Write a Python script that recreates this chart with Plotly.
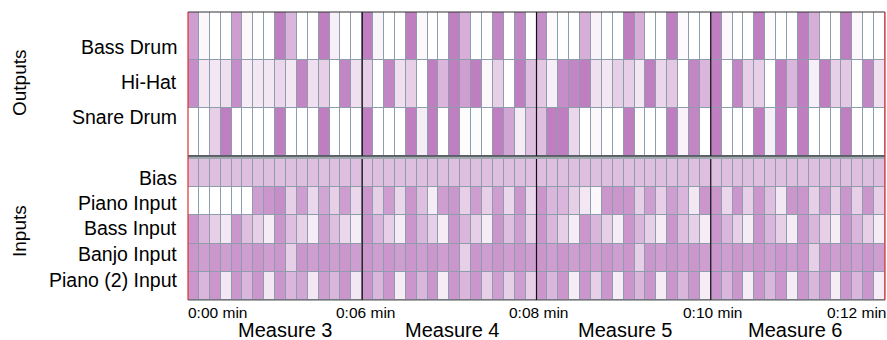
import plotly.graph_objects as go

# ---------------- data ----------------
output_labels = ["Bass Drum", "Hi-Hat", "Snare Drum"]
input_labels = ["Bias", "Piano Input", "Bass Input", "Banjo Input", "Piano (2) Input"]
measure_labels = ["Measure 3", "Measure 4", "Measure 5", "Measure 6"]
time_labels = ["0:00 min", "0:06 min", "0:08 min", "0:10 min", "0:12 min"]

bass_drum = (
    [0.6, 0.05, 0, 0, 0.6, 0.05, 0, 0, 0.8, 0.45, 0, 0, 0.8, 0.1, 0, 0]
    + [0.8, 0.07, 0, 0, 0.8, 0.05, 0, 0, 0.8, 0.5, 0, 0, 0.75, 0, 0.75, 0]
    + [0.7, 0.03, 0, 0, 0.5, 0.08, 0, 0, 0.8, 0.5, 0, 0, 0.8, 0.03, 0, 0]
    + [0.8, 0.05, 0, 0, 0.8, 0.03, 0, 0, 0.8, 0.5, 0, 0, 0.8, 0.05, 0, 0]
)
hi_hat = (
    [0.7, 0.15, 0.15, 0.2, 0.7, 0.12, 0.15, 0.15, 0.25, 0.15, 0.75, 0.2, 0.3, 0, 0.75, 0.2]
    + [0.3, 0, 0.75, 0.2, 0.3, 0, 0.8, 0.45, 0.8, 0.6, 0.8, 0.05, 0.3, 0, 0.8, 0.4]
    + [0.35, 0.1, 0.7, 0.75, 0.8, 0.2, 0.15, 0.3, 0.3, 0.15, 0.8, 0.25, 0.35, 0, 0.75, 0.45]
    + [0.8, 0, 0.75, 0.3, 0.3, 0, 0.8, 0.45, 0.8, 0.1, 0.8, 0.3, 0.35, 0, 0.75, 0.2]
)
snare_drum = (
    [0, 0, 0.3, 0.8, 0, 0, 0, 0, 0.8, 0, 0, 0, 0.8, 0, 0, 0]
    + [0.8, 0, 0, 0, 0.8, 0.12, 0.8, 0, 0.8, 0.02, 0.02, 0, 0.8, 0.55, 0.12, 0.4]
    + [0.4, 0.8, 0.8, 0.25, 0, 0.05, 0, 0, 0.8, 0.02, 0, 0, 0.8, 0.08, 0.75, 0]
    + [0.8, 0, 0, 0, 0.8, 0.1, 0.8, 0, 0.8, 0, 0, 0, 0.8, 0, 0, 0]
)

bias = (
    [0.4, 0.4, 0.4, 0.4, 0.4, 0.4, 0.4, 0.4, 0.4, 0.4, 0.4, 0.4, 0.4, 0.4, 0.4, 0.4]
    + [0.4, 0.4, 0.4, 0.4, 0.4, 0.4, 0.4, 0.4, 0.4, 0.4, 0.4, 0.4, 0.4, 0.4, 0.4, 0.4]
    + [0.4, 0.4, 0.4, 0.4, 0.4, 0.4, 0.4, 0.4, 0.4, 0.4, 0.4, 0.4, 0.4, 0.4, 0.4, 0.4]
    + [0.4, 0.4, 0.4, 0.4, 0.4, 0.4, 0.4, 0.4, 0.4, 0.4, 0.4, 0.4, 0.4, 0.4, 0.4, 0.4]
)
piano_input = (
    [0, 0, 0, 0, 0, 0, 0.6, 0.65, 0.7, 0.3, 0.6, 0.25, 0.55, 0.3, 0.6, 0.25]
    + [0.65, 0.3, 0.6, 0.25, 0.65, 0.4, 0.12, 0.6, 0.65, 0.3, 0.6, 0.3, 0.6, 0.25, 0.65, 0.25]
    + [0.65, 0.45, 0.45, 0.3, 0.15, 0.05, 0.65, 0.65, 0.65, 0.3, 0.6, 0.3, 0.6, 0.45, 0.15, 0.65]
    + [0.65, 0.25, 0.65, 0.3, 0.65, 0.4, 0.15, 0.65, 0.65, 0.3, 0.6, 0.3, 0.65, 0.3, 0.65, 0.3]
)
bass_input = (
    [0.65, 0.45, 0.3, 0.15, 0.65, 0.4, 0.3, 0.12, 0.65, 0.4, 0.3, 0.12, 0.6, 0.4, 0.25, 0.12]
    + [0.65, 0.45, 0.3, 0.12, 0.65, 0.45, 0.3, 0.12, 0.65, 0.45, 0.3, 0.12, 0.65, 0.4, 0.6, 0.3]
    + [0.65, 0.45, 0.3, 0.12, 0.65, 0.45, 0.3, 0.12, 0.65, 0.45, 0.3, 0.12, 0.65, 0.4, 0.3, 0.12]
    + [0.65, 0.45, 0.3, 0.12, 0.65, 0.45, 0.3, 0.12, 0.65, 0.45, 0.3, 0.12, 0.65, 0.45, 0.3, 0.12]
)
banjo_input = (
    [0.65, 0.6, 0.65, 0.6, 0.65, 0.6, 0.65, 0.6, 0.65, 0.3, 0.65, 0.6, 0.65, 0.6, 0.65, 0.6]
    + [0.65, 0.6, 0.65, 0.6, 0.65, 0.6, 0.65, 0.6, 0.65, 0.3, 0.65, 0.6, 0.65, 0.6, 0.65, 0.6]
    + [0.65, 0.6, 0.65, 0.6, 0.65, 0.6, 0.65, 0.6, 0.65, 0.3, 0.65, 0.6, 0.65, 0.6, 0.65, 0.6]
    + [0.65, 0.6, 0.65, 0.6, 0.65, 0.6, 0.65, 0.6, 0.65, 0.3, 0.65, 0.6, 0.65, 0.6, 0.65, 0.6]
)
piano2_input = (
    [0.65, 0.45, 0.65, 0.15, 0.65, 0.45, 0.65, 0.15, 0.65, 0.45, 0.55, 0.15, 0.6, 0.45, 0.65, 0.15]
    + [0.65, 0.45, 0.65, 0.12, 0.65, 0.45, 0.65, 0.12, 0.65, 0.45, 0.65, 0.3, 0.6, 0.3, 0.6, 0.3]
    + [0.65, 0.45, 0.65, 0.12, 0.65, 0.3, 0.65, 0.12, 0.65, 0.45, 0.65, 0.12, 0.65, 0.45, 0.65, 0.12]
    + [0.65, 0.45, 0.65, 0.12, 0.65, 0.45, 0.65, 0.12, 0.65, 0.45, 0.65, 0.12, 0.65, 0.45, 0.65, 0.12]
)

# ---------------- figure ----------------
W, H = 887, 340
ML, MR, MT, MB = 188, 2, 12, 40
PW, PH = W - ML - MR, H - MT - MB
FONT = "Liberation Sans, Arial, sans-serif"
GRID = "#8e9cab"
scale = [[0, "#ffffff"], [1, "#be7ec0"]]

n_cols = len(bass_drum)
xs = list(range(n_cols))


def py(pix):  # pixel y -> paper
    return (H - MB - pix) / PH


def px(pix):  # pixel x -> paper
    return (pix - ML) / PW


fig = go.Figure()
fig.add_trace(go.Heatmap(
    z=[bass_drum, hi_hat, snare_drum], x=xs, y=[0, 1, 2],
    colorscale=scale, zmin=0, zmax=0.8, showscale=False,
    xgap=1, ygap=1, xaxis="x", yaxis="y", hoverinfo="skip"))
fig.add_trace(go.Heatmap(
    z=[bias, piano_input, bass_input, banjo_input, piano2_input], x=xs, y=[0, 1, 2, 3, 4],
    colorscale=scale, zmin=0, zmax=0.8, showscale=False,
    xgap=1, ygap=1, xaxis="x2", yaxis="y2", hoverinfo="skip"))

out_top, out_bot = py(12), py(156)
in_top, in_bot = py(159), py(300)

ax = dict(showticklabels=False, showgrid=False, zeroline=False, ticks="")
fig.update_layout(
    width=W, height=H,
    margin=dict(l=ML, r=MR, t=MT, b=MB, pad=0),
    paper_bgcolor="white", plot_bgcolor=GRID,
    xaxis=dict(ax, range=[-0.5, n_cols - 0.5], domain=[0, 1], anchor="y"),
    yaxis=dict(ax, range=[2.5, -0.5], domain=[out_bot, out_top], anchor="x"),
    xaxis2=dict(ax, range=[-0.5, n_cols - 0.5], domain=[0, 1], anchor="y2"),
    yaxis2=dict(ax, range=[4.5, -0.5], domain=[in_bot, in_top], anchor="x2"),
    font=dict(family=FONT, color="black"),
)

shapes = []
# gray band between panels
shapes.append(dict(type="rect", xref="paper", yref="paper", x0=0, x1=1,
                   y0=py(159), y1=py(156), fillcolor="#a0a8b0", line=dict(width=0)))
# horizontal dark borders
for yy, col in [(12, "#333333"), (156, "#222222"), (300, "#555555")]:
    shapes.append(dict(type="line", xref="paper", yref="paper", x0=0, x1=1,
                       y0=py(yy), y1=py(yy), line=dict(color=col, width=1.2)))
# measure separators
for b in [15.5, 31.5, 47.5]:
    for (y0, y1, xr) in [(out_bot, out_top, "x"), (in_bot, in_top, "x2")]:
        shapes.append(dict(type="line", xref=xr, yref="paper", x0=b, x1=b,
                           y0=y0, y1=y1, line=dict(color="#111111", width=1.2)))
# red edges
for xe in [0, 1]:
    shapes.append(dict(type="line", xref="paper", yref="paper", x0=xe, x1=xe,
                       y0=py(300), y1=py(12), line=dict(color="#e03030", width=1.2)))
fig.update_layout(shapes=shapes)

ann = []
out_label_y = [47, 82, 117]
in_label_y = [178, 203, 228, 254, 280]
for lab, yy in zip(output_labels, out_label_y):
    ann.append(dict(text=lab, xref="paper", yref="paper", x=px(179), y=py(yy),
                    xanchor="right", yanchor="middle", showarrow=False, font=dict(size=19.5)))
for lab, yy in zip(input_labels, in_label_y):
    ann.append(dict(text=lab, xref="paper", yref="paper", x=px(179), y=py(yy),
                    xanchor="right", yanchor="middle", showarrow=False, font=dict(size=19.5)))
ann.append(dict(text="Outputs", xref="paper", yref="paper", x=px(19), y=py(83),
                xanchor="center", yanchor="middle", textangle=-90, showarrow=False,
                font=dict(size=19)))
ann.append(dict(text="Inputs", xref="paper", yref="paper", x=px(19), y=py(231),
                xanchor="center", yanchor="middle", textangle=-90, showarrow=False,
                font=dict(size=19)))
# time labels
tpos = [(185.5, "left"), (365, "center"), (538, "center"), (712, "center"), (888, "right")]
for lab, (xp, anc) in zip(time_labels, tpos):
    ann.append(dict(text=lab, xref="paper", yref="paper", x=px(xp), y=py(312),
                    xanchor=anc, yanchor="middle", showarrow=False, font=dict(size=15.5)))
mpos = [285, 452, 625, 795]
for lab, xp in zip(measure_labels, mpos):
    ann.append(dict(text=lab, xref="paper", yref="paper", x=px(xp), y=py(330),
                    xanchor="center", yanchor="middle", showarrow=False, font=dict(size=20),
                    borderpad=0))
fig.update_layout(annotations=ann)

fig.write_html("out.html", config={"displayModeBar": False},
               post_script="document.body.style.margin='0';document.body.style.overflow='hidden';")
